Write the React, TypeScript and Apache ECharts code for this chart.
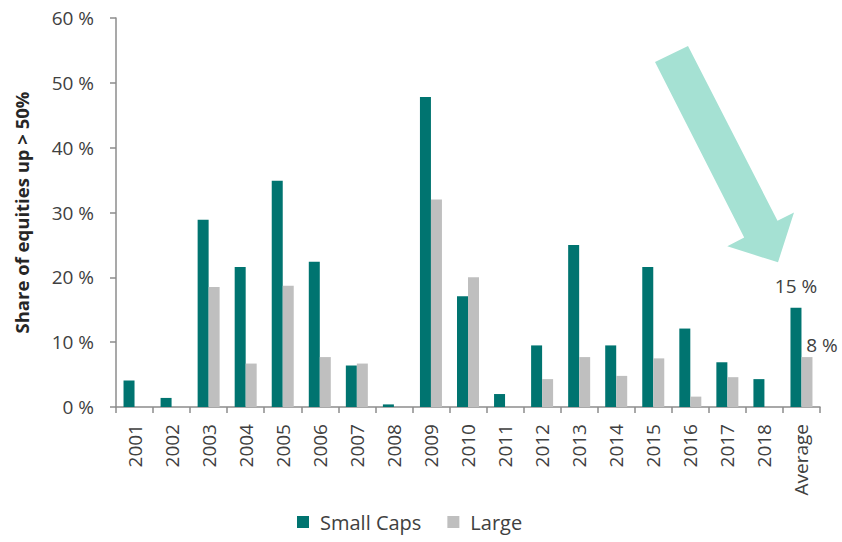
import React, { useEffect, useRef } from "react";
import * as echarts from "echarts";

const categories = ["2001","2002","2003","2004","2005","2006","2007","2008","2009","2010","2011","2012","2013","2014","2015","2016","2017","2018","Average"];
const smallCaps = [4.1, 1.4, 28.9, 21.6, 34.9, 22.4, 6.4, 0.4, 47.8, 17.1, 2.0, 9.5, 25.0, 9.5, 21.6, 12.1, 6.9, 4.3, 15.3];
const largeCaps = [0, 0, 18.5, 6.7, 18.7, 7.7, 6.7, 0, 32.0, 20.0, 0, 4.3, 7.7, 4.8, 7.5, 1.6, 4.6, 0, 7.7];
const yTicks = { min: 0, max: 60, interval: 10 };
const seriesNames = ["Small Caps", "Large"];
const yAxisTitle = "Share of equities up > 50%";

const FONT = "'Open Sans', 'Noto Sans', sans-serif";
const TEXT = "#404040";
const AXIS = "#8c8c8c";

export default function App() {
  const ref = useRef<HTMLDivElement>(null);
  useEffect(() => {
    document.body.style.margin = "0";
    const chart = echarts.init(ref.current!, null, { renderer: "svg" });
    const last = categories.length - 1;
    chart.setOption({
      animation: false,
      textStyle: { fontFamily: FONT },
      grid: { left: 116, right: 22, top: 18, bottom: 135 },
      legend: {
        data: seriesNames,
        left: 297,
        top: 512,
        padding: 0,
        itemWidth: 12,
        itemHeight: 12,
        itemGap: 26,
        icon: "rect",
        textStyle: { fontSize: 20, color: TEXT, fontFamily: FONT, padding: [0, 0, 0, 6] },
      },
      xAxis: {
        type: "category",
        data: categories,
        axisLine: { lineStyle: { color: AXIS, width: 1.5 } },
        axisTick: { show: true, length: 6, lineStyle: { color: AXIS, width: 1.5 } },
        axisLabel: { rotate: 90, fontSize: 19, color: TEXT, margin: 17, fontFamily: FONT, interval: 0 },
      },
      yAxis: {
        type: "value",
        min: yTicks.min,
        max: yTicks.max,
        interval: yTicks.interval,
        name: yAxisTitle,
        nameLocation: "middle",
        nameGap: 85,
        nameRotate: 90,
        nameTextStyle: { fontSize: 18.5, fontWeight: "bold", color: "#262626", fontFamily: FONT },
        axisLine: { show: true, lineStyle: { color: AXIS, width: 1.5 } },
        axisTick: { show: true, length: 6, lineStyle: { color: AXIS, width: 1.5 } },
        splitLine: { show: false },
        axisLabel: { fontSize: 19, color: TEXT, margin: 22, formatter: "{value} %", fontFamily: FONT },
      },
      series: [
        {
          name: seriesNames[0],
          type: "bar",
          barWidth: 11,
          barGap: "0%",
          itemStyle: { color: "#007470" },
          data: smallCaps.map((v, i) =>
            i === last
              ? { value: v, label: { show: true, position: "top", distance: 12, fontSize: 19, color: TEXT, fontFamily: FONT, formatter: () => Math.round(v) + " %" } }
              : v
          ),
        },
        {
          name: seriesNames[1],
          type: "bar",
          barWidth: 11,
          barGap: "0%",
          itemStyle: { color: "#bfbfbf" },
          data: largeCaps.map((v, i) =>
            i === last
              ? { value: v, label: { show: true, position: "top", offset: [15, 2], fontSize: 19, color: TEXT, fontFamily: FONT, formatter: () => Math.round(v) + " %" } }
              : v
          ),
        },
      ],
      graphic: [
        {
          type: "polygon",
          shape: {
            points: [
              [655, 62],
              [688, 46],
              [777.5, 220.7],
              [794, 212.5],
              [778, 262.3],
              [727.3, 246.3],
              [744.2, 237.6],
            ],
          },
          style: { fill: "#a5e1d3" },
        },
      ],
    });
    return () => chart.dispose();
  }, []);
  return <div ref={ref} style={{ width: 842, height: 542 }} />;
}
